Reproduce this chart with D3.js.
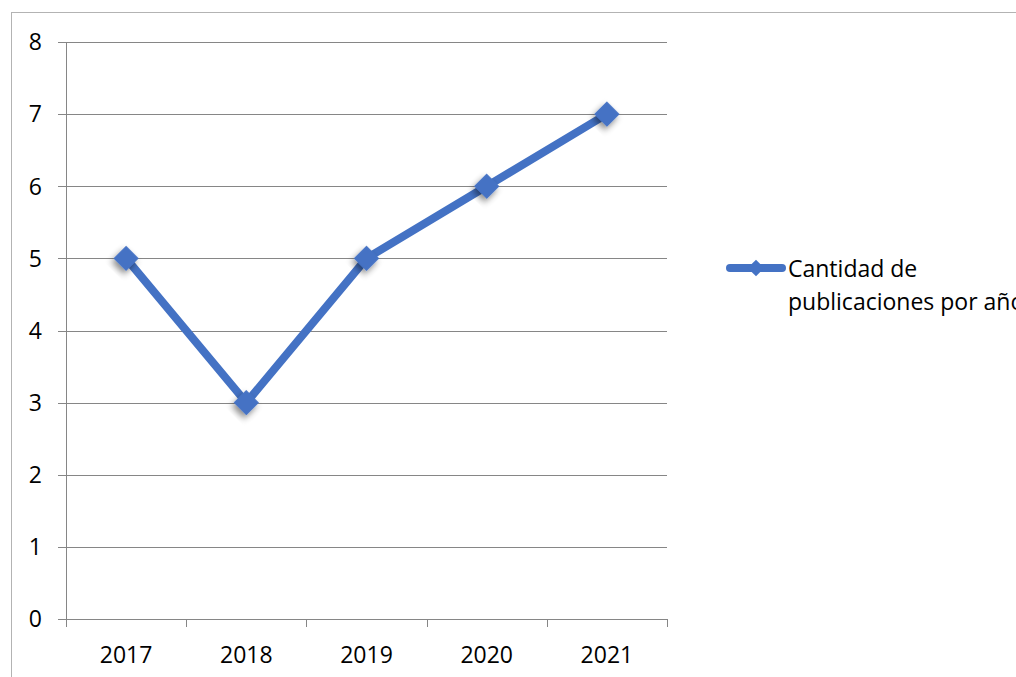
<!DOCTYPE html>
<html><head><meta charset="utf-8">
<script src="https://cdn.jsdelivr.net/npm/d3@7"></script>
<style>body{margin:0;background:#fff}svg{display:block}text{font-family:"Open Sans",sans-serif;fill:#000}</style>
</head><body>
<svg id="c" width="1016" height="677"></svg>
<script>
const years = ["2017","2018","2019","2020","2021"];
const values = [5,3,5,6,7];
const yTicks = [0,1,2,3,4,5,6,7,8];
const seriesName = ["Cantidad de","publicaciones por año"];

const svg = d3.select("#c");
const defs = svg.append("defs");
const f = defs.append("filter").attr("id","sh").attr("x","-50%").attr("y","-50%").attr("width","200%").attr("height","200%");
f.append("feDropShadow").attr("dx",1).attr("dy",4).attr("stdDeviation",3).attr("flood-color","#000").attr("flood-opacity",0.45);

// outer border
svg.append("rect").attr("x",11.5).attr("y",12.5).attr("width",1100).attr("height",800)
  .attr("fill","none").attr("stroke","#b3b3b3").attr("stroke-width",1);

const L=66,R=667,T=42,B=619;
const x = d3.scaleBand().domain(years).range([L,R]);
const y = d3.scaleLinear().domain([0,8]).range([B,T]);

const grid = svg.append("g");
grid.selectAll("line").data(yTicks).join("line")
  .attr("x1",L-8).attr("x2",R).attr("y1",d=>Math.round(y(d))+0.5).attr("y2",d=>Math.round(y(d))+0.5)
  .attr("stroke","#868686").attr("stroke-width",1);
svg.append("line").attr("x1",L+0.5).attr("x2",L+0.5).attr("y1",T).attr("y2",B).attr("stroke","#868686");
const xt = years.map(d=>x(d)).concat([R]);
svg.append("g").selectAll("line").data(xt).join("line")
  .attr("x1",d=>Math.round(d)+0.5).attr("x2",d=>Math.round(d)+0.5).attr("y1",B).attr("y2",B+8).attr("stroke","#868686");

svg.append("g").selectAll("text").data(yTicks).join("text")
  .attr("x",42).attr("y",d=>y(d)).attr("dy","0.36em").attr("text-anchor","end")
  .attr("font-size",23).text(d=>d);
svg.append("g").selectAll("text").data(years).join("text")
  .attr("x",d=>x(d)+x.bandwidth()/2).attr("y",663).attr("text-anchor","middle")
  .attr("font-size",23).text(d=>d);

const col="#4472C4";
const line = d3.line().x((d,i)=>x(years[i])+x.bandwidth()/2).y(d=>y(d));
svg.append("path").datum(values).attr("d",line).attr("fill","none").attr("stroke",col)
  .attr("stroke-width",8).attr("stroke-linejoin","miter");
const sym = d3.symbol().type(d3.symbolSquare).size(320);
svg.append("g").selectAll("path").data(values).join("path")
  .attr("d",sym).attr("fill",col).attr("filter","url(#sh)")
  .attr("transform",(d,i)=>`translate(${x(years[i])+x.bandwidth()/2},${y(d)}) rotate(45)`);

// legend
const lg = svg.append("g");
lg.append("line").attr("x1",730).attr("x2",782).attr("y1",268).attr("y2",268)
  .attr("stroke",col).attr("stroke-width",8).attr("stroke-linecap","round");
lg.append("path").attr("d",d3.symbol().type(d3.symbolSquare).size(140)).attr("fill",col)
  .attr("transform","translate(756,268) rotate(45)");
lg.selectAll("text").data(seriesName).join("text")
  .attr("x",788).attr("y",(d,i)=>277+i*33).attr("font-size",23).text(d=>d);
</script>
</body></html>
